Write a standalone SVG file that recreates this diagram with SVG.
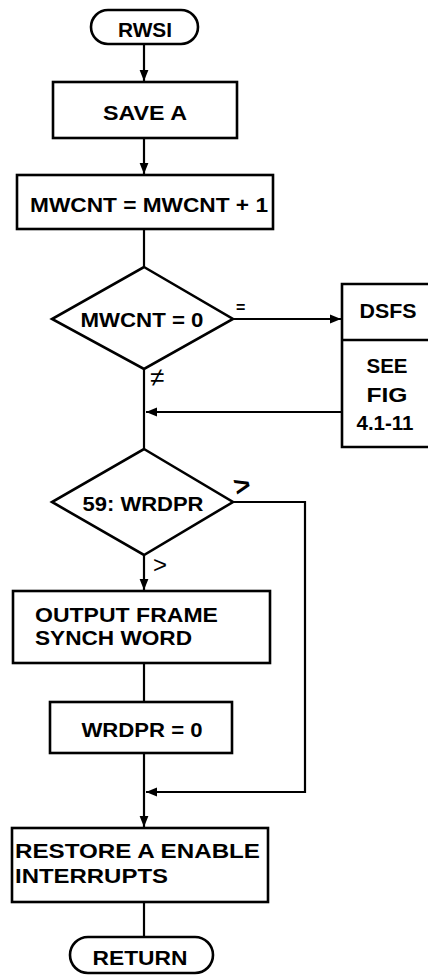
<svg xmlns="http://www.w3.org/2000/svg" width="428" height="975" viewBox="0 0 428 975">
<style>
.s{fill:#fff;stroke:#000;stroke-width:2.6}
.c{fill:none;stroke:#000;stroke-width:2.2}
.t{font-family:"Liberation Sans",Arial,sans-serif;font-weight:bold;font-size:20px;fill:#000}
.m{text-anchor:middle}
</style>
<defs>
<marker id="ah" viewBox="0 0 10 10" refX="10" refY="5" markerWidth="5" markerHeight="5" orient="auto" markerUnits="strokeWidth">
<path d="M0,1 L10,5 L0,9 Z" fill="#000"/>
</marker>
</defs>
<rect width="428" height="975" fill="#fff"/>
<g id="connectors">
<path class="c" d="M144,44 V81" marker-end="url(#ah)"/>
<path class="c" d="M144,138 V174" marker-end="url(#ah)"/>
<path class="c" d="M144,229 V267"/>
<path class="c" d="M233,319 H341" marker-end="url(#ah)"/>
<path class="c" d="M144,368 V449"/>
<path class="c" d="M342,412 H146" marker-end="url(#ah)"/>
<path class="c" d="M144,555 V590" marker-end="url(#ah)"/>
<path class="c" d="M233,502 H305 V792 H146" marker-end="url(#ah)"/>
<path class="c" d="M144,663 V702"/>
<path class="c" d="M144,753 V827" marker-end="url(#ah)"/>
<path class="c" d="M144,902 V937"/>
<text class="t" x="236" y="313" style="font-size:16px">=</text>
<text class="t" x="150" y="386" style="font-size:26px;font-weight:normal">≠</text>
<text class="t" x="234" y="494" style="font-size:28px" transform="rotate(-14 245 485)">&gt;</text>
<text class="t" x="153" y="573" style="font-size:24px;font-weight:normal">&gt;</text>
</g>
<g id="rwsi">
<rect class="s" x="91" y="10" width="107" height="34" rx="17"/>
<text class="t m" x="145" y="37" textLength="54" lengthAdjust="spacingAndGlyphs">RWSI</text>
</g>
<g id="save-a">
<rect class="s" x="53" y="82" width="184" height="56"/>
<text class="t m" x="145" y="120" textLength="84" lengthAdjust="spacingAndGlyphs">SAVE A</text>
</g>
<g id="mwcnt-inc">
<rect class="s" x="17" y="175" width="256" height="54"/>
<text class="t m" x="149" y="212" textLength="238" lengthAdjust="spacingAndGlyphs">MWCNT = MWCNT + 1</text>
</g>
<g id="mwcnt-test">
<path class="s" d="M144,267 L233,319 L144,369 L52,319 Z"/>
<text class="t m" x="142" y="327" textLength="123" lengthAdjust="spacingAndGlyphs">MWCNT = 0</text>
</g>
<g id="dsfs">
<path class="s" d="M432,284 H342 V447 H432"/>
<line x1="342" y1="340" x2="428" y2="340" stroke="#000" stroke-width="2.6"/>
<text class="t m" x="388" y="318" textLength="57" lengthAdjust="spacingAndGlyphs">DSFS</text>
<text class="t m" x="387" y="373" textLength="41" lengthAdjust="spacingAndGlyphs">SEE</text>
<text class="t m" x="387" y="402" textLength="41" lengthAdjust="spacingAndGlyphs">FIG</text>
<text class="t m" x="385" y="430" textLength="57" lengthAdjust="spacingAndGlyphs">4.1-11</text>
</g>
<g id="wrdpr-test">
<path class="s" d="M144,449 L233,502 L144,555 L52,502 Z"/>
<text class="t m" x="143" y="511" textLength="121" lengthAdjust="spacingAndGlyphs">59: WRDPR</text>
</g>
<g id="output-frame">
<rect class="s" x="13" y="591" width="257" height="72"/>
<text class="t" x="35" y="622" textLength="183" lengthAdjust="spacingAndGlyphs">OUTPUT FRAME</text>
<text class="t" x="35" y="645" textLength="157" lengthAdjust="spacingAndGlyphs">SYNCH WORD</text>
</g>
<g id="wrdpr-clear">
<rect class="s" x="50" y="702" width="182" height="51"/>
<text class="t m" x="142" y="737" textLength="121" lengthAdjust="spacingAndGlyphs">WRDPR = 0</text>
</g>
<g id="restore">
<rect class="s" x="12" y="828" width="256" height="74"/>
<text class="t" x="15" y="858" textLength="245" lengthAdjust="spacingAndGlyphs">RESTORE A ENABLE</text>
<text class="t" x="15" y="883" textLength="153" lengthAdjust="spacingAndGlyphs">INTERRUPTS</text>
</g>
<g id="return">
<rect class="s" x="70" y="937" width="143" height="36" rx="18"/>
<text class="t m" x="140" y="965" textLength="95" lengthAdjust="spacingAndGlyphs">RETURN</text>
</g>
</svg>
